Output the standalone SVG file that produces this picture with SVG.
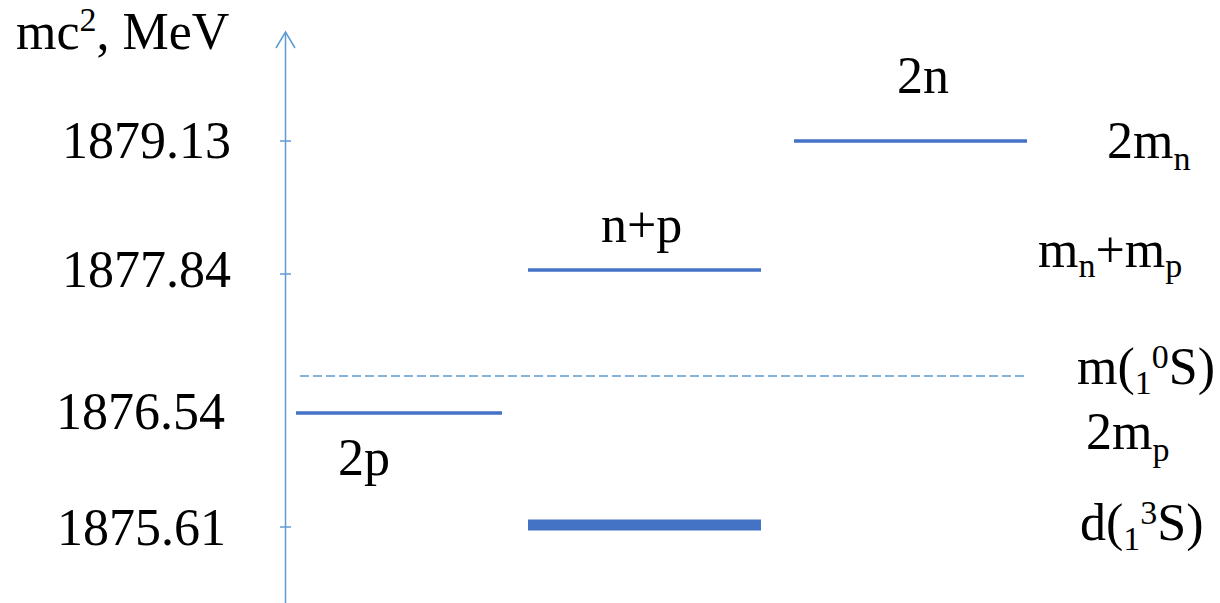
<svg xmlns="http://www.w3.org/2000/svg" width="1220" height="603" viewBox="0 0 1220 603">
<style>
.t{font-family:"Liberation Serif","Times New Roman",serif;font-size:52px;fill:#000}
.sub{font-size:34px}
.axis{stroke:#5B9BD5;stroke-width:1.5;fill:none}
.lvl{stroke:#4472C4;stroke-width:3.5}
.gnd{stroke:#4472C4;stroke-width:11}
.dash{stroke:#5B9BD5;stroke-width:1.3;stroke-dasharray:9 4}
</style>
<rect width="1220" height="603" fill="#fff"/>
<g id="axis">
<line class="axis" x1="285.5" y1="33" x2="285.5" y2="603"/>
<polyline class="axis" points="276,48 285.5,32 295,48"/>
<line class="axis" x1="280" y1="141" x2="291" y2="141"/>
<line class="axis" x1="280" y1="274" x2="291" y2="274"/>
<line class="axis" x1="280" y1="527" x2="291" y2="527"/>
<text class="t" x="16" y="49">mc<tspan class="sub" dy="-18">2</tspan><tspan dy="18">, MeV</tspan></text>
<text class="t" x="62" y="158">1879.13</text>
<text class="t" x="62" y="287">1877.84</text>
<text class="t" x="56" y="429">1876.54</text>
<text class="t" x="57" y="545">1875.61</text>
</g>
<g id="connectors">
<line class="dash" x1="300" y1="376" x2="1027" y2="376"/>
</g>
<g id="level-2n">
<line class="lvl" x1="794" y1="141" x2="1027" y2="141"/>
<text class="t" x="897" y="93">2n</text>
<text class="t" x="1107" y="158">2m<tspan class="sub" dy="12">n</tspan></text>
</g>
<g id="level-np">
<line class="lvl" x1="528" y1="270" x2="761" y2="270"/>
<text class="t" x="601" y="242">n+p</text>
<text class="t" x="1038" y="267">m<tspan class="sub" dy="10">n</tspan><tspan dy="-10">+m</tspan><tspan class="sub" dy="10">p</tspan></text>
</g>
<g id="level-singlet">
<text class="t" x="1077" y="384">m(<tspan class="sub" dy="10">1</tspan><tspan class="sub" dy="-26">0</tspan><tspan dy="16">S)</tspan></text>
</g>
<g id="level-2p">
<line class="lvl" x1="296" y1="413" x2="502" y2="413"/>
<text class="t" x="338" y="475">2p</text>
<text class="t" x="1086" y="449">2m<tspan class="sub" dy="12">p</tspan></text>
</g>
<g id="level-d">
<line class="gnd" x1="528" y1="525" x2="761" y2="525"/>
<text class="t" x="1080" y="540">d(<tspan class="sub" dy="10">1</tspan><tspan class="sub" dy="-26">3</tspan><tspan dy="16">S)</tspan></text>
</g>
</svg>
